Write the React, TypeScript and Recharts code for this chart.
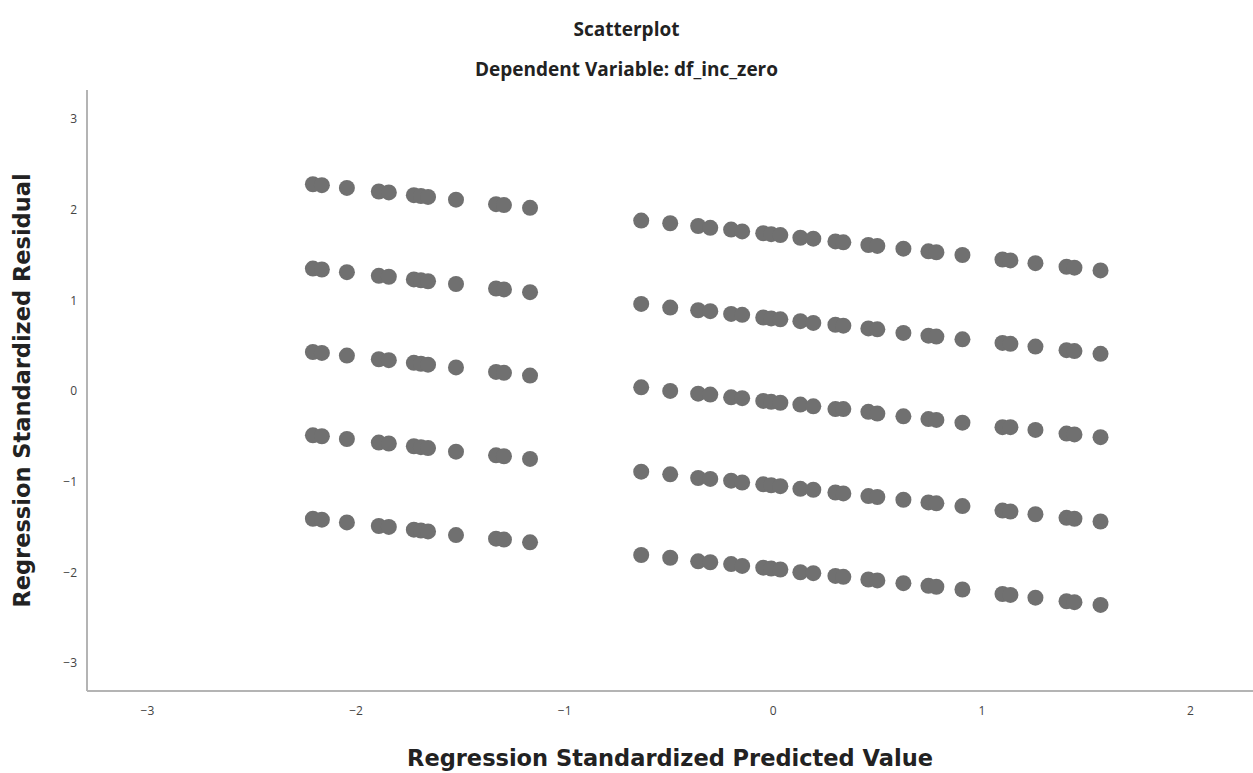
import { ScatterChart, Scatter, XAxis, YAxis } from "recharts";

// standardized predicted values
const predLeft = [-2.207, -2.164, -2.044, -1.891, -1.843, -1.723, -1.689, -1.655, -1.521, -1.329, -1.291, -1.166];
const predRight = [
  -0.633, -0.494, -0.36, -0.302, -0.202, -0.149, -0.048, -0.01, 0.034, 0.13, 0.192, 0.298, 0.336,
  0.456, 0.499, 0.624, 0.744, 0.782, 0.907, 1.099, 1.137, 1.257, 1.406, 1.444, 1.569,
];

// standardized residuals, one array per band
const residLeft1 = [2.28, 2.27, 2.24, 2.2, 2.19, 2.16, 2.15, 2.14, 2.11, 2.06, 2.05, 2.02];
const residLeft2 = [1.35, 1.34, 1.31, 1.27, 1.26, 1.23, 1.22, 1.21, 1.18, 1.13, 1.12, 1.09];
const residLeft3 = [0.43, 0.42, 0.39, 0.35, 0.34, 0.31, 0.3, 0.29, 0.26, 0.21, 0.2, 0.17];
const residLeft4 = [-0.49, -0.5, -0.53, -0.57, -0.58, -0.61, -0.62, -0.63, -0.67, -0.71, -0.72, -0.75];
const residLeft5 = [-1.41, -1.42, -1.45, -1.49, -1.5, -1.53, -1.54, -1.55, -1.59, -1.63, -1.64, -1.67];

const residRight1 = [
  1.88, 1.85, 1.82, 1.8, 1.78, 1.76, 1.74, 1.73, 1.72, 1.69, 1.68, 1.65, 1.64,
  1.61, 1.6, 1.57, 1.54, 1.53, 1.5, 1.45, 1.44, 1.41, 1.37, 1.36, 1.33,
];
const residRight2 = [
  0.96, 0.92, 0.89, 0.88, 0.85, 0.84, 0.81, 0.8, 0.79, 0.77, 0.75, 0.73, 0.72,
  0.69, 0.68, 0.64, 0.61, 0.6, 0.57, 0.53, 0.52, 0.49, 0.45, 0.44, 0.41,
];
const residRight3 = [
  0.04, 0.0, -0.03, -0.04, -0.07, -0.08, -0.11, -0.12, -0.13, -0.15, -0.17, -0.2, -0.2,
  -0.23, -0.25, -0.28, -0.31, -0.32, -0.35, -0.4, -0.4, -0.43, -0.47, -0.48, -0.51,
];
const residRight4 = [
  -0.89, -0.92, -0.96, -0.97, -0.99, -1.01, -1.03, -1.04, -1.05, -1.08, -1.09, -1.12, -1.13,
  -1.16, -1.17, -1.2, -1.23, -1.24, -1.27, -1.32, -1.33, -1.36, -1.4, -1.41, -1.44,
];
const residRight5 = [
  -1.81, -1.84, -1.88, -1.89, -1.91, -1.93, -1.95, -1.96, -1.97, -2.0, -2.01, -2.04, -2.05,
  -2.08, -2.09, -2.12, -2.15, -2.16, -2.19, -2.24, -2.25, -2.28, -2.32, -2.33, -2.36,
];

const xTicks = [-3, -2, -1, 0, 1, 2];
const yTicks = [-3, -2, -1, 0, 1, 2, 3];

const toPoints = (xs: number[], ys: number[]) => xs.map((x, i) => ({ x, y: ys[i] }));

const points = [
  ...[residLeft1, residLeft2, residLeft3, residLeft4, residLeft5].flatMap((r) => toPoints(predLeft, r)),
  ...[residRight1, residRight2, residRight3, residRight4, residRight5].flatMap((r) => toPoints(predRight, r)),
];

const DOT = "#707070";
const AXIS = "#b4b4b4";
const FONT = "'Open Sans', 'DejaVu Sans', sans-serif";
const TITLE_FONT = "'DejaVu Sans', sans-serif";

const Dot = (props: any) => <circle cx={props.cx} cy={props.cy} r={8} fill={DOT} />;

const fmt = (v: number) => (v < 0 ? "\u2212" + Math.abs(v) : String(v));

export default function App() {
  return (
    <div style={{ position: "absolute", left: 0, top: 0, width: 1253, height: 773, background: "#fff", fontFamily: FONT }}>
      <div
        style={{
          position: "absolute",
          top: 16,
          width: 1253,
          textAlign: "center",
          fontSize: 19,
          fontWeight: 700,
          color: "#222",
        }}
      >
        Scatterplot
      </div>
      <div
        style={{
          position: "absolute",
          top: 56,
          width: 1253,
          textAlign: "center",
          fontSize: 19,
          fontWeight: 700,
          color: "#222",
        }}
      >
        Dependent Variable: df_inc_zero
      </div>
      <ScatterChart width={1253} height={773} margin={{ top: 90, right: 0, bottom: 0, left: 0 }}>
        <XAxis
          type="number"
          dataKey="x"
          domain={[-3.29, 2.3]}
          ticks={xTicks}
          allowDataOverflow
          tickFormatter={fmt}
          tickLine={false}
          tickSize={0}
          tickMargin={15}
          height={82}
          stroke={AXIS}
          strokeWidth={2}
          tick={{ fill: "#444", fontSize: 12, fontFamily: FONT }}
          label={{
            value: "Regression Standardized Predicted Value",
            position: "insideBottom",
            offset: 7,
            fill: "#222",
            fontSize: 22.5,
            fontWeight: 700,
            fontFamily: TITLE_FONT,
          }}
        />
        <YAxis
          type="number"
          dataKey="y"
          domain={[-3.31, 3.32]}
          ticks={yTicks}
          allowDataOverflow
          tickFormatter={fmt}
          tickLine={false}
          tickSize={0}
          tickMargin={10}
          width={87}
          stroke={AXIS}
          strokeWidth={2}
          tick={{ fill: "#444", fontSize: 12, fontFamily: FONT }}
          label={{
            value: "Regression Standardized Residual",
            angle: -90,
            position: "insideLeft",
            offset: 22,
            style: { textAnchor: "middle" },
            fill: "#222",
            fontSize: 22.5,
            fontWeight: 700,
            fontFamily: TITLE_FONT,
          }}
        />
        <Scatter data={points} shape={Dot} isAnimationActive={false} />
      </ScatterChart>
    </div>
  );
}
